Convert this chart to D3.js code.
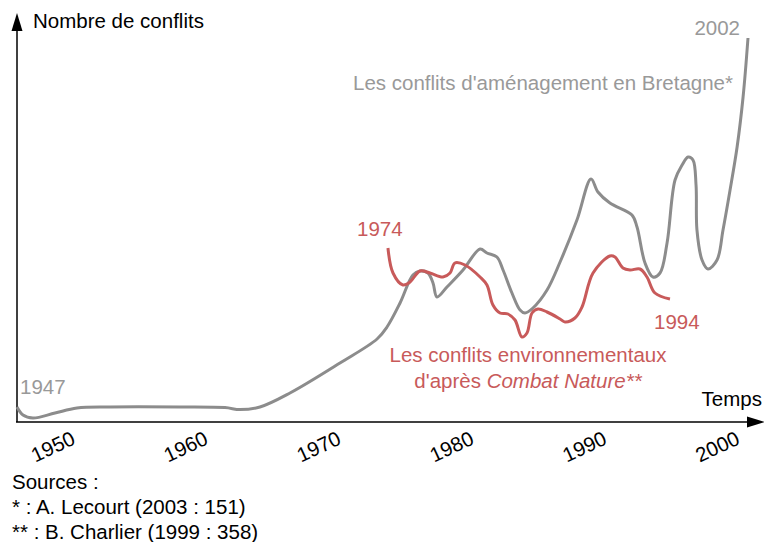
<!DOCTYPE html>
<html lang="fr">
<head>
<meta charset="utf-8">
<script src="https://d3js.org/d3.v7.min.js"></script>
<style>
  body { margin: 0; background: #fff; }
  text { font-family: "Liberation Sans", Arial, sans-serif; }
</style>
</head>
<body>
<script>
// Grey series: conflits d'aménagement en Bretagne (arbitrary units, no y ticks)
var amenYears = [1947, 1947.45, 1948.2, 1949.86, 1951.51, 1954, 1959.26, 1962.65, 1963.78, 1965.28, 1967.54,
  1971.3, 1974.09, 1974.84, 1975.82, 1976.79, 1977.32, 1977.92, 1978.3, 1978.6, 1979.35, 1980.56, 1981.84,
  1982.36, 1983.11, 1983.57, 1984.24, 1984.85, 1985.22, 1985.82, 1986.88, 1987.86, 1989.13, 1990.19,
  1990.71, 1991.61, 1993.27, 1993.65, 1994.25, 1994.85, 1995.38, 1995.91, 1996.51, 1997.04, 1997.49,
  1997.86, 1998.09, 1998.16, 1998.54, 1998.99, 1999.67, 2000.12, 2000.65, 2001.18, 2001.63, 2002];
var amenValues = [3.75, 1.75, 1, 2.25, 3.5, 3.75, 3.75, 3.6, 3.1, 3.75, 7.25,
  14.75, 20.75, 23.75, 29.75, 36.75, 37.75, 37.25, 34.75, 31.25, 33.75, 38, 43.25,
  42.25, 41.25, 38, 32.25, 28, 27.25, 28.5, 33, 40, 50.5, 60.75,
  57.5, 54.75, 51.75, 48.75, 39.75, 36.25, 37.25, 44.75, 60.5, 64.25, 66.25,
  65.5, 59.25, 48, 40.5, 38.25, 40.5, 48, 58, 68.75, 81.25, 96];

// Red series: conflits environnementaux d'après Combat Nature
var envYears = [1974.91, 1975.29, 1976.04, 1976.57, 1977.32, 1978.07, 1979.05, 1979.58, 1979.95, 1980.71,
  1981.84, 1982.36, 1982.81, 1983.34, 1983.94, 1984.47, 1984.99, 1985.37, 1985.75, 1986.2, 1986.88,
  1987.86, 1988.23, 1988.98, 1989.51, 1990.34, 1991.61, 1991.99, 1992.59, 1993.12, 1993.87, 1994.4,
  1995.0, 1996.13];
var envValues = [43.5, 37.25, 34.25, 35, 37.75, 37.25, 36.25, 37.25, 39.75, 39.25,
  36.25, 34.25, 29.25, 27.25, 27, 25.5, 21.25, 22.25, 27.25, 28.25, 27.5,
  25.75, 25, 26, 28.75, 37.25, 41.5, 41.25, 38.5, 38, 38.25, 36.25,
  32.25, 30.75];

var tickYears = [1950, 1960, 1970, 1980, 1990, 2000];
var sources = ["Sources :", "* : A. Lecourt (2003 : 151)", "** : B. Charlier (1999 : 358)"];

var w = 764, h = 542;
var grey = "#8c8c8c", greyText = "#999999", red = "#c85a5a";
var fs = 20.5;

var svg = d3.select("body").append("svg").attr("width", w).attr("height", h);

var x = d3.scaleLinear().domain([1947, 2002]).range([17, 748]);
var y = d3.scaleLinear().domain([0, 100]).range([422, 22]);

// axes with arrows
svg.append("line").attr("x1", 17).attr("y1", 30).attr("x2", 17).attr("y2", 422)
  .attr("stroke", "#000").attr("stroke-width", 1.5);
svg.append("path").attr("d", "M17,13 L11.5,31 L22.5,31 Z").attr("fill", "#000");
svg.append("line").attr("x1", 16).attr("y1", 422).attr("x2", 748).attr("y2", 422)
  .attr("stroke", "#000").attr("stroke-width", 1.5);
svg.append("path").attr("d", "M765,422 L747,416.5 L747,427.5 Z").attr("fill", "#000");

svg.append("text").attr("x", 33).attr("y", 28).attr("font-size", fs).attr("fill", "#000")
  .text("Nombre de conflits");
svg.append("text").attr("x", 762).attr("y", 406).attr("font-size", fs).attr("text-anchor", "end")
  .attr("fill", "#000").text("Temps");

// rotated year labels
svg.selectAll("text.tick").data(tickYears).enter().append("text")
  .attr("class", "tick")
  .attr("transform", function(d) { return "translate(" + (x(d) - 1) + ",453) rotate(-25)"; })
  .attr("text-anchor", "middle").attr("font-size", fs).attr("fill", "#000")
  .text(function(d) { return d; });

var line = d3.line()
  .x(function(d) { return x(d[0]); })
  .y(function(d) { return y(d[1]); })
  .curve(d3.curveCatmullRom.alpha(0.5));

svg.append("path").datum(d3.zip(amenYears, amenValues))
  .attr("d", line).attr("fill", "none").attr("stroke", grey).attr("stroke-width", 3)
  .attr("stroke-linejoin", "round");
svg.append("path").datum(d3.zip(envYears, envValues))
  .attr("d", line).attr("fill", "none").attr("stroke", red).attr("stroke-width", 3)
  .attr("stroke-linejoin", "round");

// annotations
svg.append("text").attr("x", 20).attr("y", 394).attr("font-size", fs).attr("fill", greyText).text("1947");
svg.append("text").attr("x", 740).attr("y", 35).attr("font-size", fs).attr("text-anchor", "end")
  .attr("fill", greyText).text("2002");
svg.append("text").attr("x", 733).attr("y", 90).attr("font-size", fs).attr("text-anchor", "end")
  .attr("fill", greyText).text("Les conflits d'aménagement en Bretagne*");

svg.append("text").attr("x", 357).attr("y", 236).attr("font-size", fs).attr("fill", red).text("1974");
svg.append("text").attr("x", 654).attr("y", 329).attr("font-size", fs).attr("fill", red).text("1994");
svg.append("text").attr("x", 528).attr("y", 362).attr("font-size", fs).attr("text-anchor", "middle")
  .attr("fill", red).text("Les conflits environnementaux");
var t2 = svg.append("text").attr("x", 528).attr("y", 388).attr("font-size", fs).attr("text-anchor", "middle")
  .attr("fill", red);
t2.append("tspan").text("d'après ");
t2.append("tspan").attr("font-style", "italic").text("Combat Nature**");

// sources
svg.selectAll("text.src").data(sources).enter().append("text")
  .attr("class", "src")
  .attr("x", 12).attr("y", function(d, i) { return 489 + i * 25; })
  .attr("font-size", fs).attr("fill", "#000")
  .text(function(d) { return d; });
</script>
</body>
</html>
